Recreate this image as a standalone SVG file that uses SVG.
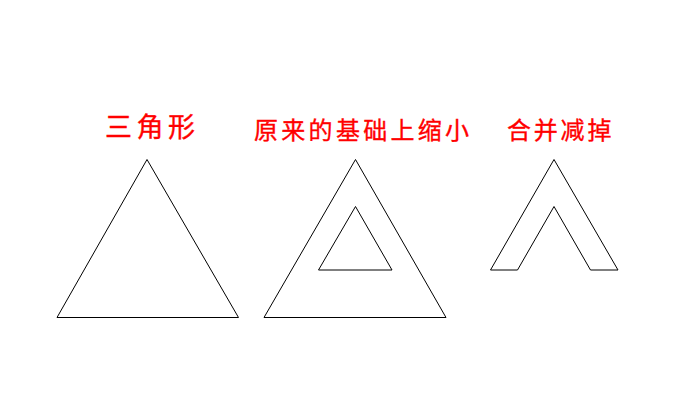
<svg xmlns="http://www.w3.org/2000/svg" width="688" height="404" viewBox="0 0 688 404">
<style>
.t{font-family:"Noto Sans CJK SC","Liberation Sans",sans-serif;fill:#ff0000;stroke:#ff0000;stroke-width:0.35;}
.s{fill:none;stroke:#000;stroke-width:1;}
</style>
<rect width="688" height="404" fill="#fff"/>
<g id="triangle">
<text class="t" x="105" y="136.5" font-size="27" letter-spacing="4.5">三角形</text>
<polygon class="s" points="147,159.5 57,317.5 238.5,317.5"/>
</g>
<g id="scaled">
<text class="t" x="254" y="138.5" font-size="24" letter-spacing="3.3">原来的基础上缩小</text>
<polygon class="s" points="355.5,159.5 264,317.5 446,317.5"/>
<polygon class="s" points="355.5,206.5 318.5,270 392,270"/>
</g>
<g id="merged">
<text class="t" x="507" y="139" font-size="24" letter-spacing="2.8">合并减掉</text>
<polygon class="s" points="554,159.5 490.5,270 517.5,270 554,206.5 590.5,270 618,270"/>
</g>
</svg>
